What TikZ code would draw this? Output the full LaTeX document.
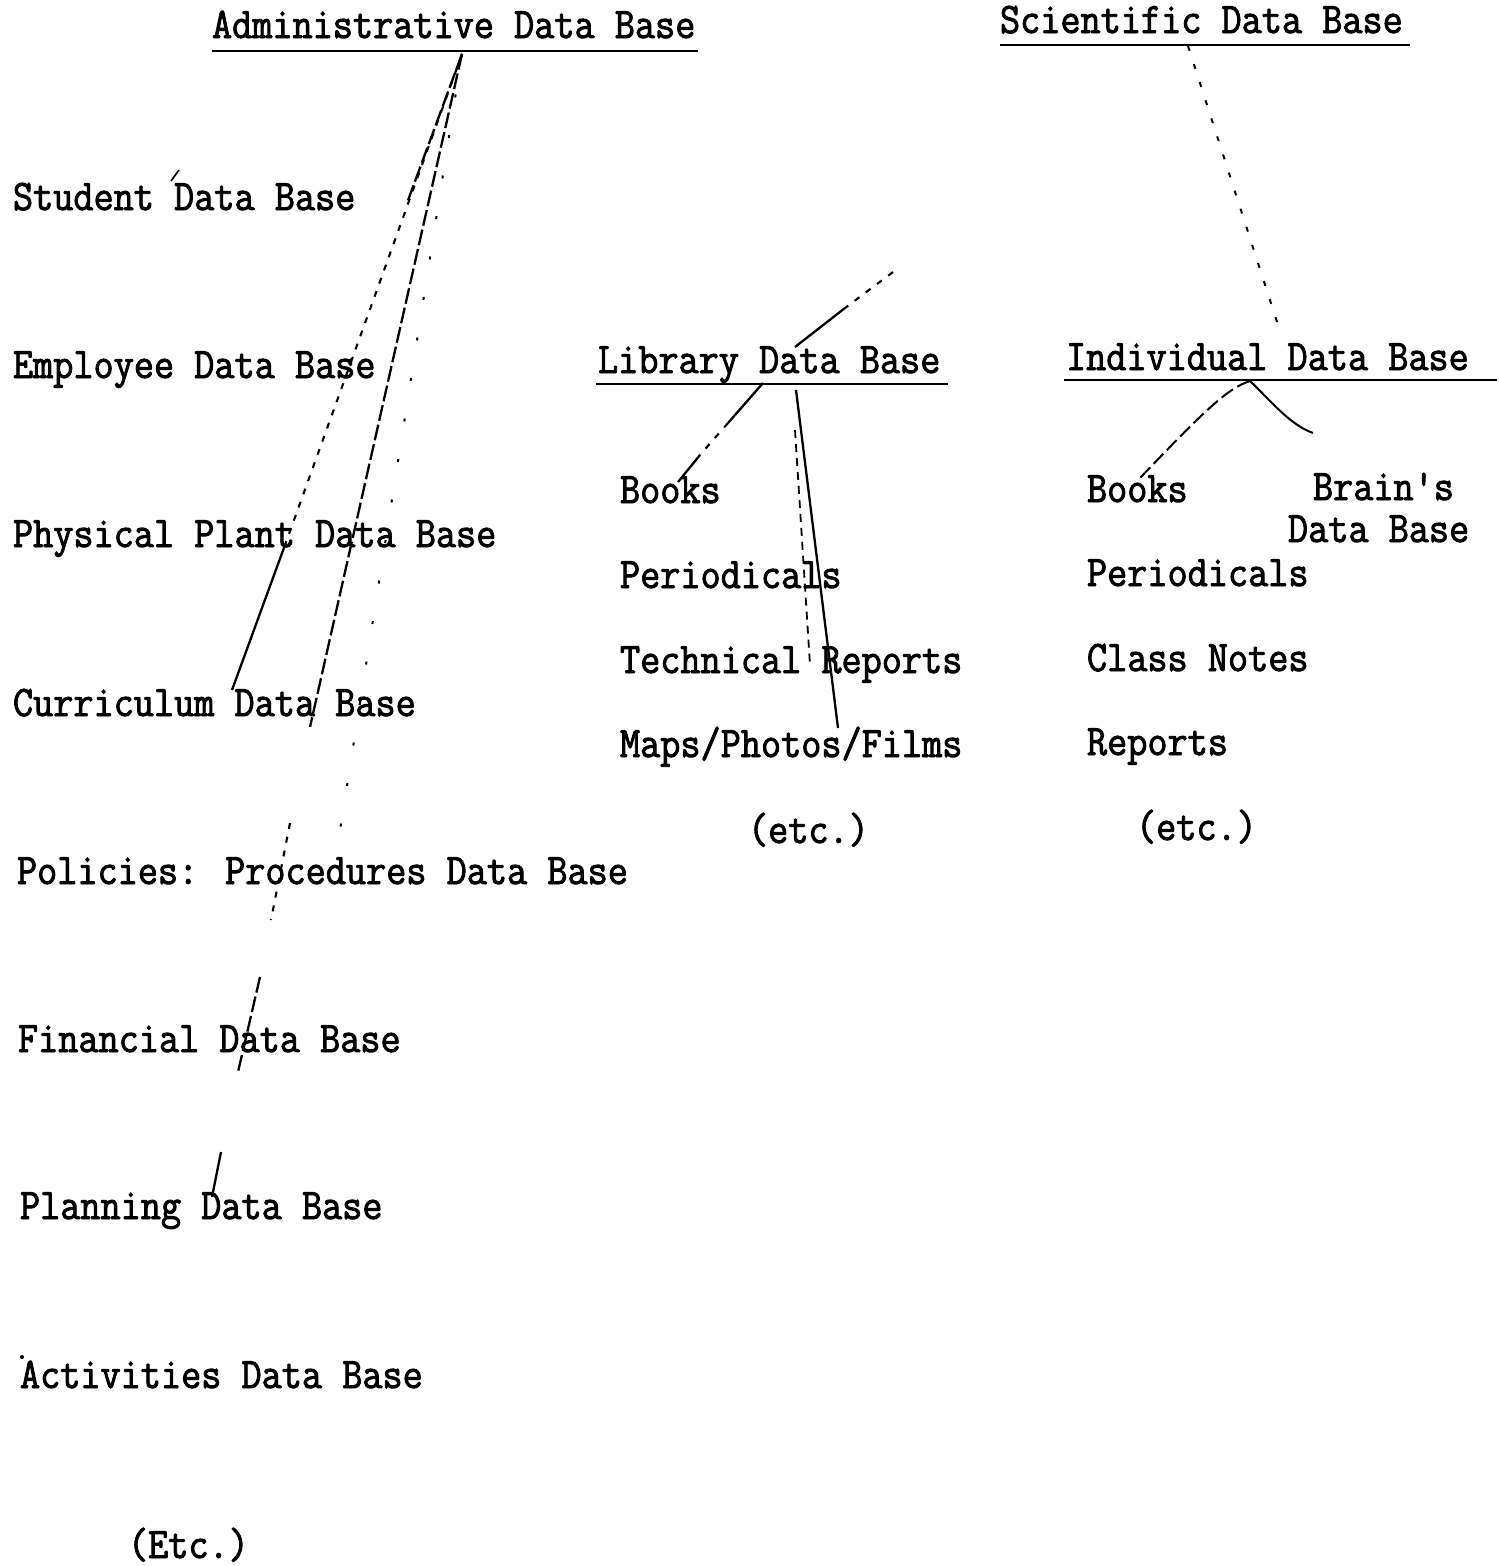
\documentclass[tikz,border=0pt]{standalone}
\usepackage{fontspec}
\newfontfamily\tw{Latin Modern Mono}[FakeStretch=0.897,FakeBold=2]
\begin{document}
\begin{tikzpicture}[x=1pt,y=-1pt,
  lbl/.style={font=\tw\fontsize{43.6}{50}\selectfont, anchor=base west, inner sep=0pt, outer sep=0pt},
  uline/.style={line width=2.4pt},
  solidln/.style={line width=2.3pt},
  dotln/.style={line width=2.1pt, dash pattern=on 6pt off 8pt},
  sparse/.style={line width=2pt, dash pattern=on 3pt off 38pt},
  dashln/.style={line width=2.3pt, dash pattern=on 16pt off 4pt}]
\useasboundingbox (0,0) rectangle (1499,1566);
\fill[white] (0,0) rectangle (1499,1566);

% ---- titles ----
\node[lbl] (adm) at (212,38) {Administrative Data Base};
\coordinate (admL) at (212,51); \coordinate (admR) at (698,51);
\draw[uline] (admL) -- (admR);
\node[lbl] (sci) at (1000,33) {Scientific Data Base};
\coordinate (sciL) at (1000,45); \coordinate (sciR) at (1410,45);
\draw[uline] (sciL) -- (sciR);

% ---- administrative children ----
\node[lbl] (stu) at (13,210) {Student Data Base};
\node[lbl] (emp) at (13,378) {Employee Data Base};
\node[lbl] (phy) at (13,547) {Physical Plant Data Base};
\node[lbl] (cur) at (13,716) {Curriculum Data Base};
\node[lbl] (pol) at (17,884) {Policies: Procedures Data Base};
\node[lbl] (fin) at (18,1052) {Financial Data Base};
\node[lbl] (pla) at (20,1219) {Planning Data Base};
\node[lbl] (act) at (20,1388) {Activities Data Base};
\node[lbl] (etcA) at (128,1558) {(Etc.)};

% ---- library ----
\node[lbl] (lib) at (598,373) {Library Data Base};
\coordinate (libL) at (596,384); \coordinate (libR) at (948,384);
\draw[uline] (libL) -- (libR);
\node[lbl] (lbk) at (620,503) {Books};
\node[lbl] (lper) at (620,588) {Periodicals};
\node[lbl] (ltec) at (620,673) {Technical Reports};
\node[lbl] (lmap) at (620,757) {Maps/Photos/Films};
\node[lbl] (letc) at (748,843) {(etc.)};

% ---- individual ----
\node[lbl] (ind) at (1066,370) {Individual Data Base};
\coordinate (indL) at (1064,380); \coordinate (indR) at (1497,380);
\draw[uline] (indL) -- (indR);
\node[lbl] (ibk) at (1087,502) {Books};
\node[lbl] (ibr1) at (1313,500) {Brain's};
\node[lbl] (ibr2) at (1288,542) {Data Base};
\node[lbl] (iper) at (1087,586) {Periodicals};
\node[lbl] (icla) at (1087,671) {Class Notes};
\node[lbl] (irep) at (1087,755) {Reports};
\node[lbl] (ietc) at (1136,840) {(etc.)};

% ---- administrative connectors ----
\coordinate (a0) at (462,54);
\coordinate (a1) at (407,203);
\coordinate (a2) at (310,727);
\coordinate (b1) at (290,823); \coordinate (b2) at (271,920);
\coordinate (b3) at (260,977); \coordinate (b4) at (238,1072);
\coordinate (b5) at (221,1152); \coordinate (b6) at (212,1197);
\coordinate (a3) at (285,545);
\coordinate (a3b) at (232,690);
\coordinate (a5) at (335,862);
\draw[dashln] (a0) -- (a1);
\draw[dashln] (a0) -- (a2);
\draw[dotln] (b1) -- (b2);
\draw[dashln] (b3) -- (b4);
\draw[solidln] (b5) -- (b6);
\draw[dotln] (a0) -- (a3);
\draw[solidln] (a3) -- (a3b);
\draw[sparse] (a0) -- (a5);

% ---- library connectors ----
\coordinate (l0) at (893,272);
\coordinate (l1) at (845,308);
\coordinate (l2) at (795,347);
\coordinate (l3) at (763,383);
\coordinate (l4) at (728,423);
\coordinate (l5) at (700,455);
\coordinate (l6) at (678,482);
\draw[dotln] (l0) -- (l1);
\draw[solidln] (l1) -- (l2);
\draw[solidln] (l3) -- (l4);
\draw[dotln] (l4) -- (l5);
\draw[solidln] (l5) -- (l6);
\coordinate (m0) at (796,390);
\coordinate (m1) at (838,728);
\draw[solidln] (m0) -- (m1);
\coordinate (n0) at (795,430);
\coordinate (n1) at (810,665);
\draw[line width=1.8pt, dash pattern=on 8pt off 6pt] (n0) -- (n1);

% ---- scientific / individual connectors ----
\coordinate (s0) at (1188,46);
\coordinate (s1) at (1278,325);
\draw[line width=2pt, dash pattern=on 5pt off 14pt] (s0) -- (s1);
\coordinate (i0) at (1250,381);
\coordinate (i1) at (1140,478);
\coordinate (i2) at (1313,433);
\draw[line width=2pt, dash pattern=on 14pt off 5pt] (i0) .. controls (1228,388) and (1205,410) .. (i1);
\draw[line width=2pt] (i0) .. controls (1270,400) and (1290,425) .. (i2);

% ---- stray marks ----
\coordinate (x1) at (179,170); \coordinate (x2) at (171,181);
\draw[line width=1.6pt] (x1) -- (x2);
\coordinate (x3) at (22,1357);
\fill (x3) circle (2pt);
\end{tikzpicture}
\end{document}
